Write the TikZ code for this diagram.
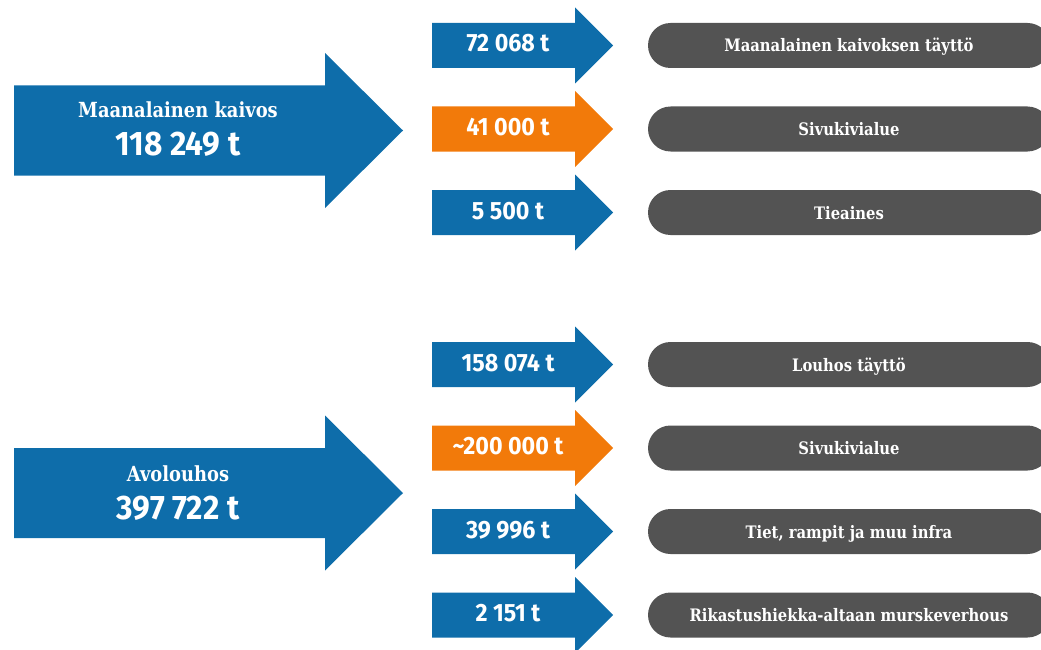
\documentclass[tikz,border=0pt]{standalone}
\usepackage{fontspec}
\usetikzlibrary{positioning}
\newfontfamily\numfont{Fira Sans}[FakeStretch=0.93]
\newfontfamily\labelfont{DejaVu Serif}[FakeStretch=0.86]
\definecolor{flowblue}{HTML}{0E6DAA}
\definecolor{floworange}{HTML}{F27A0A}
\definecolor{pillgray}{HTML}{535353}

% big arrow: centre y, colour
\newcommand\bigflow[2]{%
  \fill[#2] (14,#1-45) -- (325,#1-45) -- (325,#1-77.5) -- (403,#1)
    -- (325,#1+77.5) -- (325,#1+45) -- (14,#1+45) -- cycle;}
% small arrow: centre y, colour
\newcommand\smallflow[2]{%
  \fill[#2] (432,#1-22.5) -- (575,#1-22.5) -- (575,#1-38) -- (613,#1)
    -- (575,#1+38) -- (575,#1+22.5) -- (432,#1+22.5) -- cycle;}

\tikzset{
  numtext/.style={text=white, inner sep=0pt, outer sep=0pt,
    text height=13pt, text depth=0pt, minimum height=45pt,
    font=\numfont\bfseries\fontsize{25}{26}\selectfont},
  pill/.style={fill=pillgray, rounded corners=22.5pt, inner sep=0pt, outer sep=0pt,
    minimum width=402pt, minimum height=45pt, text height=13pt, text depth=0pt,
    text=white, font=\labelfont\bfseries\fontsize{17.2}{18}\selectfont},
  bigname/.style={text=white, anchor=base, inner sep=0pt,
    font=\labelfont\bfseries\fontsize{20.8}{21}\selectfont},
  bignum/.style={text=white, anchor=base, inner sep=0pt,
    font=\numfont\bfseries\fontsize{34}{35}\selectfont},
}

\begin{document}
\begin{tikzpicture}[x=1pt, y=-1pt]
    \useasboundingbox (0,0) rectangle (1041,650);

    % underground mine
    \bigflow{130.5}{flowblue}
    \smallflow{45.5}{flowblue}
    \smallflow{129}{floworange}
    \smallflow{212.5}{flowblue}
    \node[bigname] (mk) at (178,118) {Maanalainen kaivos};
    \node[bignum] (mkt) at ([yshift=-38pt]mk.base) {118 249 t};
    \node[numtext] (mk1) at (508,45.5) {72 068 t};
    \node[numtext, below=38.5pt of mk1] (mk2) {41 000 t};
    \node[numtext, below=38.5pt of mk2] (mk3) {5 500 t};
    \node[pill] (mkp1) at (849,45.5) {Maanalainen kaivoksen täyttö};
    \node[pill, below=38.5pt of mkp1] (mkp2) {Sivukivialue};
    \node[pill, below=38.5pt of mkp2] (mkp3) {Tieaines};

    % open pit
    \bigflow{493}{flowblue}
    \smallflow{364.5}{flowblue}
    \smallflow{448}{floworange}
    \smallflow{531.5}{flowblue}
    \smallflow{615}{flowblue}
    \node[bigname] (al) at (178,481.5) {Avolouhos};
    \node[bignum] (alt) at ([yshift=-38pt]al.base) {397 722 t};
    \node[numtext] (al1) at (508,364.5) {158 074 t};
    \node[numtext, below=38.5pt of al1] (al2) {\textasciitilde200 000 t};
    \node[numtext, below=38.5pt of al2] (al3) {39 996 t};
    \node[numtext, below=38.5pt of al3] (al4) {2 151 t};
    \node[pill] (alp1) at (849,364.5) {Louhos täyttö};
    \node[pill, below=38.5pt of alp1] (alp2) {Sivukivialue};
    \node[pill, below=38.5pt of alp2] (alp3) {Tiet, rampit ja muu infra};
    \node[pill, below=38.5pt of alp3] (alp4) {Rikastushiekka-altaan murskeverhous};
\end{tikzpicture}
\end{document}
